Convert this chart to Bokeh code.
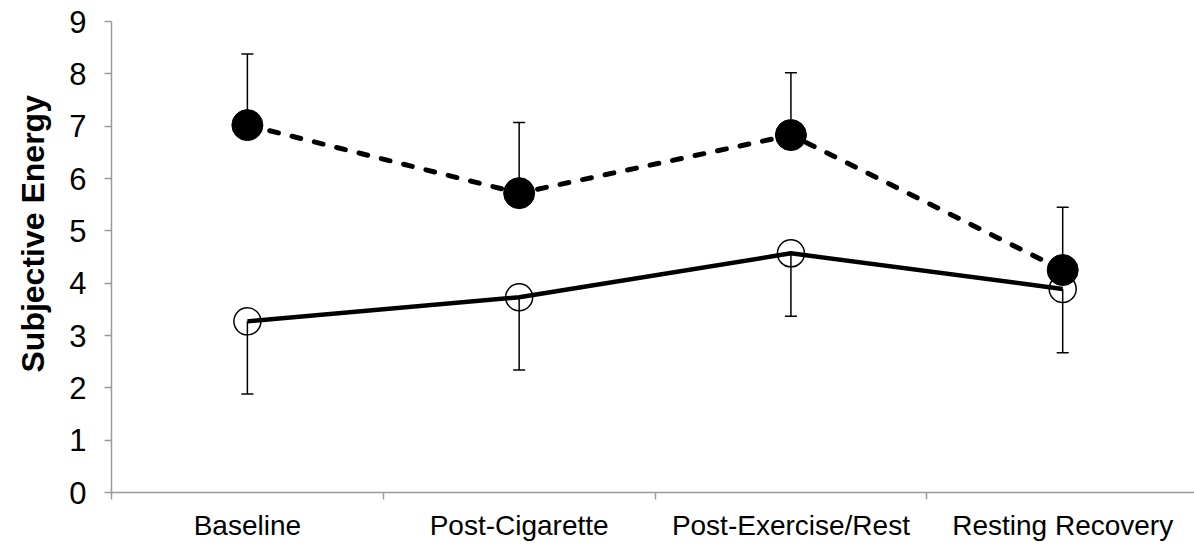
from bokeh.plotting import figure
from bokeh.models import Range1d, FixedTicker, Whisker, TeeHead, ColumnDataSource, Title
from bokeh.embed import file_html
from bokeh.resources import INLINE

categories = ["Baseline", "Post-Cigarette", "Post-Exercise/Rest", "Resting Recovery"]
filled_mean = [7.02, 5.72, 6.83, 4.25]
filled_upper = [8.38, 7.07, 8.02, 5.45]
open_mean = [3.27, 3.73, 4.57, 3.89]
open_lower = [1.88, 2.34, 3.37, 2.67]
y_ticks = [0, 1, 2, 3, 4, 5, 6, 7, 8, 9]
y_title = "Subjective Energy"

xpos = [i + 1 for i in range(len(categories))]

p = figure(width=1194, height=546, output_backend="svg", toolbar_location=None,
           x_range=Range1d(0.5, 4.485), y_range=Range1d(0, 9),
           min_border_left=111, min_border_right=0, min_border_top=21, min_border_bottom=54)
p.outline_line_color = None
p.xgrid.visible = False
p.ygrid.visible = False
p.background_fill_color = "white"
p.border_fill_color = "white"

axis_color = "#9a9a9a"
font = "Liberation Sans"

# x axis
p.xaxis.ticker = FixedTicker(ticks=xpos, minor_ticks=[0.5, 1.5, 2.5, 3.5, 4.5])
p.xaxis.major_label_overrides = {x: c for x, c in zip(xpos, categories)}
p.xaxis.major_tick_line_color = None
p.xaxis.minor_tick_line_color = axis_color
p.xaxis.minor_tick_line_width = 1.5
p.xaxis.minor_tick_out = 7
p.xaxis.minor_tick_in = 0
p.xaxis.axis_line_color = axis_color
p.xaxis.axis_line_width = 1.5
p.xaxis.major_label_text_font = font
p.xaxis.major_label_text_font_size = "28px"
p.xaxis.major_label_text_color = "black"
p.xaxis.major_label_standoff = 10

# y axis
p.yaxis.ticker = FixedTicker(ticks=y_ticks)
p.yaxis.minor_tick_line_color = None
p.yaxis.major_tick_line_color = axis_color
p.yaxis.major_tick_line_width = 1.5
p.yaxis.major_tick_out = 7
p.yaxis.major_tick_in = 0
p.yaxis.axis_line_color = axis_color
p.yaxis.axis_line_width = 1.5
p.yaxis.major_label_text_font = font
p.yaxis.major_label_text_font_size = "31px"
p.yaxis.major_label_text_color = "black"
p.yaxis.major_label_standoff = 18

p.add_layout(Title(text=y_title, align="left", offset=120, text_font=font,
                   text_font_size="32px", text_font_style="bold", text_color="black",
                   standoff=27, vertical_align="top"), "left")

src_f = ColumnDataSource(dict(x=xpos, y=filled_mean, up=filled_upper))
src_o = ColumnDataSource(dict(x=xpos, y=open_mean, lo=open_lower))

# error bars
wf = Whisker(source=src_f, base="x", lower="y", upper="up", line_color="black", line_width=1.5,
             upper_head=TeeHead(size=12, line_color="black", line_width=1.5), lower_head=None)
wo = Whisker(source=src_o, base="x", lower="lo", upper="y", line_color="black", line_width=1.5,
             lower_head=TeeHead(size=12, line_color="black", line_width=1.5), upper_head=None)
p.add_layout(wf)
p.add_layout(wo)

# solid series (open circles)
p.line("x", "y", source=src_o, line_color="black", line_width=4.5)
p.scatter("x", "y", source=src_o, size=27, marker="circle", fill_color=None,
          line_color="black", line_width=1.5)

# dashed series (filled circles)
p.line("x", "y", source=src_f, line_color="black", line_width=5, line_dash="9 14", line_cap="round")
p.scatter("x", "y", source=src_f, size=31, marker="circle", fill_color="black", line_color="black")

open("out.html", "w").write(file_html(p, INLINE))
